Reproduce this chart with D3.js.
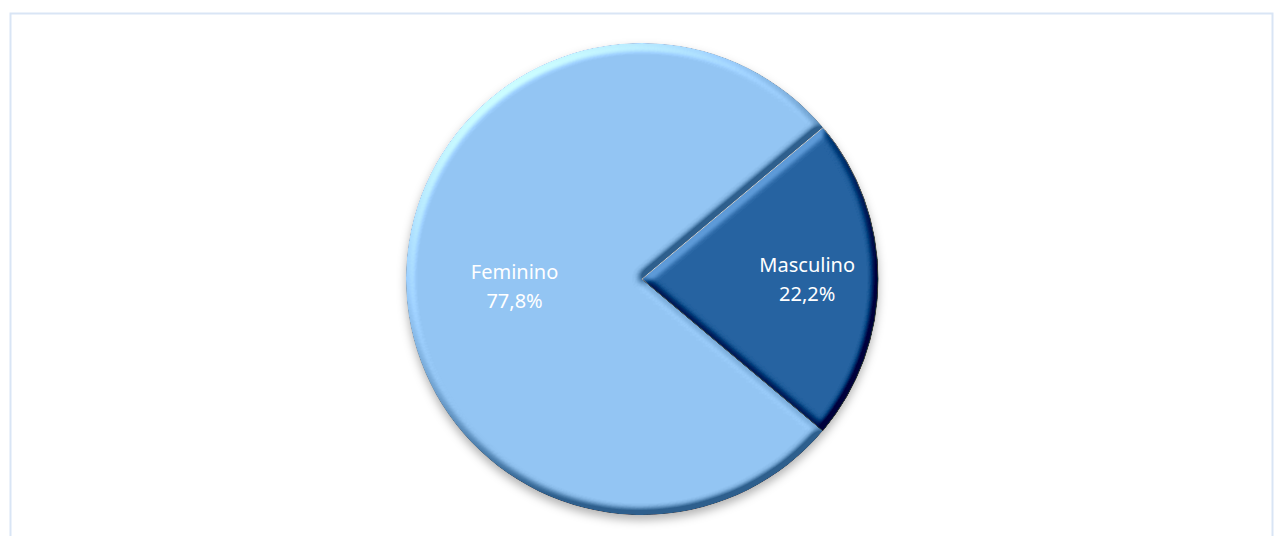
<!DOCTYPE html>
<html>
<head>
<meta charset="utf-8">
<script src="https://cdn.jsdelivr.net/npm/d3@7"></script>
<style>
  html, body { margin: 0; padding: 0; background: #fff; }
  svg { display: block; font-family: "Noto Sans", "Open Sans", sans-serif; }
</style>
</head>
<body>
<svg id="chart" width="1278" height="536"></svg>
<script>
// dados
const categories = ["Feminino", "Masculino"];
const values = [77.8, 22.2];
const labels = ["77,8%", "22,2%"];
const colors = ["#93C5F3", "#2663A1"];

const width = 1278, height = 536;
const cx = 642, cy = 279, radius = 236;

const svg = d3.select("#chart");
const defs = svg.append("defs");

// bisel: luz difusa vinda do canto superior esquerdo
const bevel = defs.append("filter")
  .attr("id", "bevel")
  .attr("x", "-5%").attr("y", "-5%").attr("width", "110%").attr("height", "110%")
  .attr("color-interpolation-filters", "sRGB");
bevel.append("feGaussianBlur").attr("in", "SourceAlpha").attr("stdDeviation", 4.5).attr("result", "b");
bevel.append("feDiffuseLighting")
  .attr("in", "b").attr("surfaceScale", 9).attr("diffuseConstant", 1)
  .attr("lighting-color", "#fff").attr("result", "light")
  .append("feDistantLight").attr("azimuth", 235).attr("elevation", 40);
bevel.append("feComposite")
  .attr("in", "SourceGraphic").attr("in2", "light").attr("operator", "arithmetic")
  .attr("k1", 0).attr("k2", 1).attr("k3", 0.62).attr("k4", -0.4).attr("result", "lit");
bevel.append("feComposite").attr("in", "lit").attr("in2", "SourceAlpha").attr("operator", "in");

// sombra por baixo da pizza
const shadow = defs.append("filter")
  .attr("id", "shadow")
  .attr("x", "-10%").attr("y", "-10%").attr("width", "120%").attr("height", "125%");
shadow.append("feDropShadow")
  .attr("dx", 0).attr("dy", 5).attr("stdDeviation", 5)
  .attr("flood-color", "#000").attr("flood-opacity", 0.3);

// moldura do gráfico
svg.append("rect")
  .attr("x", 10.5).attr("y", 13.5)
  .attr("width", 1262).attr("height", 540)
  .attr("fill", "none")
  .attr("stroke", "#D9E5F5")
  .attr("stroke-width", 2);

const pie = d3.pie()
  .sort(null)
  .startAngle(130 * Math.PI / 180)
  .endAngle(130 * Math.PI / 180 + 2 * Math.PI);

const arcs = pie(values);
const arc = d3.arc().innerRadius(0).outerRadius(radius);

const g = svg.append("g")
  .attr("transform", `translate(${cx},${cy})`)
  .attr("filter", "url(#shadow)");

g.selectAll("path")
  .data(arcs)
  .join("path")
  .attr("d", arc)
  .attr("fill", (d, i) => colors[i])
  .attr("stroke", (d, i) => i === 1 ? "#9a9a9a" : "none")
  .attr("stroke-width", 1)
  .attr("filter", "url(#bevel)");

// rótulos (posição relativa ao raio, como o "melhor ajuste" do Excel)
const labelR = [0.54, 0.7];
const labelDy = [0, -7];
const text = svg.append("g")
  .attr("transform", `translate(${cx},${cy})`)
  .selectAll("text")
  .data(arcs)
  .join("text")
  .attr("text-anchor", "middle")
  .attr("fill", "#fff")
  .attr("font-size", 20)
  .attr("transform", (d, i) => {
    const a = (d.startAngle + d.endAngle) / 2;
    const r = radius * labelR[i];
    return `translate(${r * Math.sin(a)},${-r * Math.cos(a) + labelDy[i]})`;
  });

text.append("tspan").attr("x", 0).attr("y", 0).text((d, i) => categories[i]);
text.append("tspan").attr("x", 0).attr("y", 29).text((d, i) => labels[i]);
</script>
</body>
</html>
